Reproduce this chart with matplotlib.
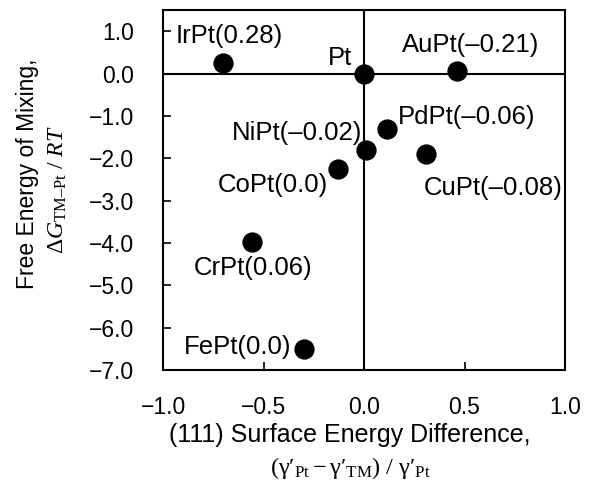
import matplotlib
matplotlib.use('Agg')
import matplotlib.pyplot as plt

# данные: (111) разница поверхностных энергий и свободная энергия смешения
labels = ['IrPt(0.28)', 'Pt', 'AuPt(–0.21)', 'PdPt(–0.06)', 'NiPt(–0.02)',
          'CuPt(–0.08)', 'CoPt(0.0)', 'CrPt(0.06)', 'FePt(0.0)']
surf_diff = [-0.70, 0.0, 0.465, 0.115, 0.01, 0.31, -0.13, -0.555, -0.30]
mix_energy = [0.24, 0.0, 0.05, -1.32, -1.81, -1.91, -2.26, -3.98, -6.50]

x_ticks = [-1.0, -0.5, 0.0, 0.5, 1.0]
y_ticks = [1.0, 0.0, -1.0, -2.0, -3.0, -4.0, -5.0, -6.0, -7.0]

# смещения подписей в пикселях и выравнивание
label_pos = {
    'IrPt(0.28)': ((-48, 27), 'left'),
    'Pt': ((-12, 16), 'right'),
    'AuPt(–0.21)': ((13, 26), 'center'),
    'PdPt(–0.06)': ((11, 12), 'left'),
    'NiPt(–0.02)': ((-4, 17), 'right'),
    'CuPt(–0.08)': ((-3, -34), 'left'),
    'CoPt(0.0)': ((-10, -16), 'right'),
    'CrPt(0.06)': ((1, -26), 'center'),
    'FePt(0.0)': ((-12, 2), 'right'),
}

plt.rcParams['font.family'] = ['Liberation Sans', 'DejaVu Sans']
plt.rcParams['mathtext.fontset'] = 'custom'
plt.rcParams['mathtext.rm'] = 'Liberation Serif'
plt.rcParams['mathtext.it'] = 'Liberation Serif:italic'

fig = plt.figure(figsize=(5.91, 4.86), dpi=100)
ax = fig.add_axes([163 / 591, 1 - 370 / 486, 402 / 591, 360 / 486])

ax.axhline(0, color='black', lw=1.5, zorder=1)
ax.axvline(0, color='black', lw=1.5, zorder=1)
ax.scatter(surf_diff, mix_energy, s=185, color='black', zorder=3)

for name, x, y in zip(labels, surf_diff, mix_energy):
    off, ha = label_pos[name]
    ax.annotate(name, (x, y), xytext=off, textcoords='offset pixels',
                ha=ha, va='center', fontsize=18.5)

ax.set_xlim(-1.0, 1.0)
ax.set_ylim(-7.0, 1.5)
ax.set_xticks(x_ticks)
ax.set_yticks(y_ticks)
ax.set_xticklabels([f'{v:.1f}'.replace('-', '−') for v in x_ticks])
ax.set_yticklabels([f'{v:.1f}'.replace('-', '−') for v in y_ticks])
ax.tick_params(axis='x', direction='in', length=6, width=1.2, pad=19, labelsize=16.5)
ax.tick_params(axis='y', direction='in', length=6, width=1.2, pad=21, labelsize=16.5)
for sp in ax.spines.values():
    sp.set_linewidth(1.5)

# подписи осей в две строки
fig.text(350 / 591, 1 - 435 / 486, '(111) Surface Energy Difference,',
         ha='center', va='center', fontsize=18)
fig.text(350 / 591, 1 - 468 / 486,
         r"$(\mathrm{γ′}_{\mathrm{Pt}} - \mathrm{γ′}_{\mathrm{TM}})\ /\ \mathrm{γ′}_{\mathrm{Pt}}$",
         ha='center', va='center', fontsize=17.5)
fig.text(28 / 591, 1 - 174 / 486, 'Free Energy of Mixing,', rotation=90,
         ha='center', va='center', fontsize=16.5)
fig.text(58 / 591, 1 - 190 / 486, r'$\Delta G_{\mathrm{TM–Pt}}\ /\ RT$',
         rotation=90, ha='center', va='center', fontsize=17)

plt.savefig('out.png', dpi=100)
plt.close(fig)
